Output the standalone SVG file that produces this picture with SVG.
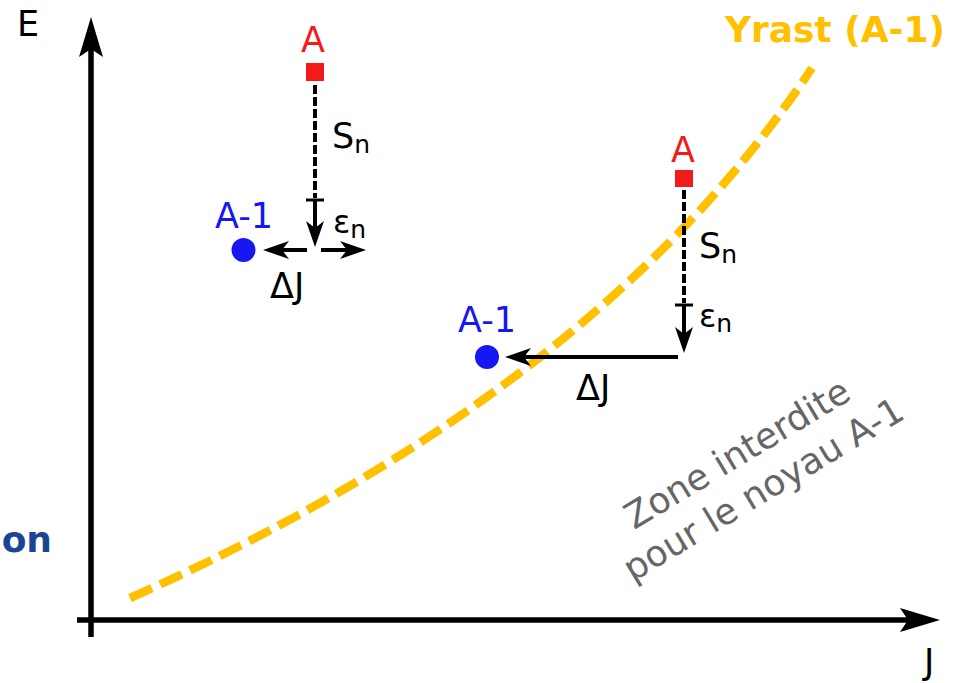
<svg xmlns="http://www.w3.org/2000/svg" width="956" height="683" viewBox="0 0 956 683">
<style>
text{font-family:"DejaVu Sans","Verdana",sans-serif}
.lbl{font-size:35px}
.red{fill:#f21b1b}
.blue{fill:#1717f2}
.blk{fill:#000}
.ax{stroke:#000;stroke-width:5.5;fill:none}
.arr{stroke:#000;stroke-width:4;fill:none}
.dash{stroke:#000;stroke-width:4;fill:none;stroke-dasharray:9 3}
.tick{stroke:#000;stroke-width:3}
.yr{stroke:#ffc000;stroke-width:8.5;fill:none;stroke-dasharray:24 9}
</style>
<defs>
<marker id="big" markerUnits="userSpaceOnUse" orient="auto" refX="0" refY="0" markerWidth="60" markerHeight="40" viewBox="-45 -20 60 40" overflow="visible">
<path d="M12,0 L-28,-12 L-20,0 L-28,12 Z" fill="#000"/>
</marker>
<marker id="sm" markerUnits="userSpaceOnUse" orient="auto" refX="0" refY="0" markerWidth="40" markerHeight="30" viewBox="-30 -15 40 30" overflow="visible">
<path d="M8,0 L-18,-9 L-11,0 L-18,9 Z" fill="#000"/>
</marker>
</defs>
<rect width="956" height="683" fill="#fff"/>

<g id="axes">
<line class="ax" x1="91" y1="637" x2="91" y2="29" marker-end="url(#big)"/>
<line class="ax" x1="77" y1="620" x2="928" y2="620" marker-end="url(#big)"/>
<text x="17" y="36" class="lbl blk">E</text>
<text x="924" y="674" class="lbl blk">J</text>
</g>

<g id="yrast">
<path class="yr" d="M130,598 C405,476 655,305 812,68"/>
<text x="945" y="42" text-anchor="end" style="font-size:36px;font-weight:bold;fill:#ffc000">Yrast (A-1)</text>
</g>

<text id="cut" x="52" y="552" text-anchor="end" style="font-size:36px;font-weight:bold;fill:#1c4591">on</text>

<g id="nodeA1">
<rect x="306" y="63" width="18" height="18" class="red"/>
<text x="313" y="52" text-anchor="middle" class="lbl red">A</text>
</g>
<g id="nodeB1">
<circle cx="243.5" cy="250" r="12" class="blue"/>
<text x="244" y="228" text-anchor="middle" class="lbl blue">A-1</text>
</g>
<g id="nodeA2">
<rect x="675" y="170" width="18" height="17" class="red"/>
<text x="683" y="162" text-anchor="middle" class="lbl red">A</text>
</g>
<g id="nodeB2">
<circle cx="487" cy="357" r="12" class="blue"/>
<text x="487" y="332" text-anchor="middle" class="lbl blue">A-1</text>
</g>

<g id="connectors">
<line class="dash" x1="315" y1="85" x2="315" y2="198"/>
<line class="tick" x1="306" y1="200" x2="324" y2="200"/>
<line class="arr" x1="315" y1="200" x2="315" y2="239" marker-end="url(#sm)"/>
<line class="arr" x1="307" y1="250" x2="271" y2="250" marker-end="url(#sm)"/>
<line class="arr" x1="321" y1="250" x2="358" y2="250" marker-end="url(#sm)"/>

<line class="dash" x1="684" y1="190" x2="684" y2="303"/>
<line class="tick" x1="675" y1="305" x2="693" y2="305"/>
<line class="arr" x1="684" y1="305" x2="684" y2="345" marker-end="url(#sm)"/>
<line class="arr" x1="678" y1="357" x2="513" y2="357" marker-end="url(#sm)"/>
</g>

<g id="labels">
<text x="332" y="148" class="lbl blk">S<tspan dy="5" style="font-size:25px">n</tspan></text>
<text x="333" y="233" class="lbl blk" style="font-size:32px">ε<tspan dy="5" style="font-size:25px">n</tspan></text>
<text x="270" y="298" class="lbl blk">ΔJ</text>
<text x="699" y="258" class="lbl blk">S<tspan dy="5" style="font-size:25px">n</tspan></text>
<text x="699" y="327" class="lbl blk" style="font-size:32px">ε<tspan dy="5" style="font-size:25px">n</tspan></text>
<text x="576" y="400" class="lbl blk">ΔJ</text>
</g>

<g id="zone" transform="translate(634,530) rotate(-31)" style="fill:#666;font-size:36px">
<text x="0" y="0">Zone interdite</text>
<text x="-28" y="44">pour le noyau A-1</text>
</g>
</svg>
